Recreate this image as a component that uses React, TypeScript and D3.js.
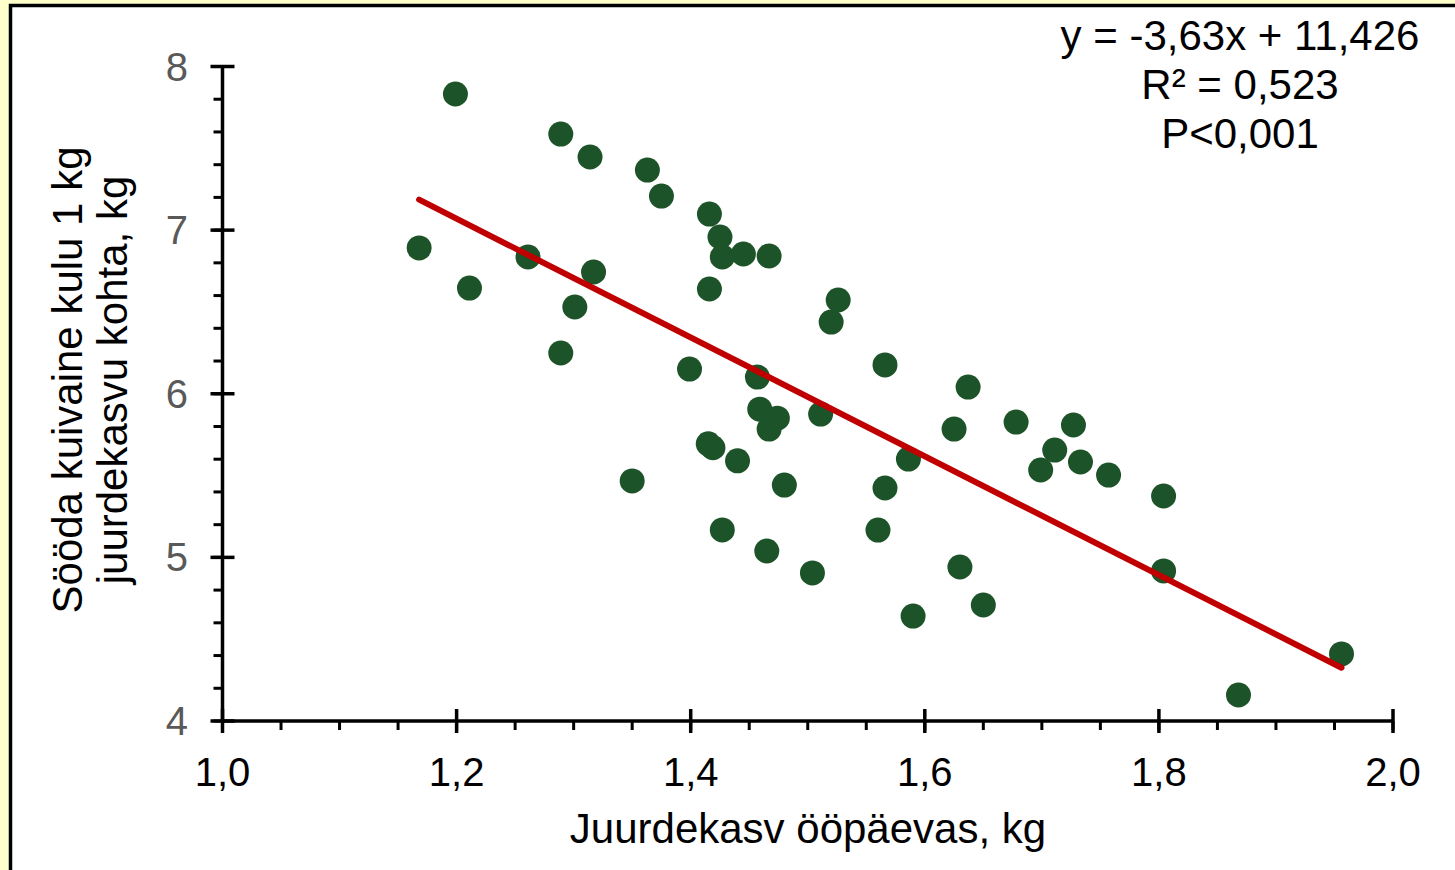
import React from 'react';
import * as d3 from 'd3';

// daily gain, kg
const gain = [
  1.168, 1.199, 1.211, 1.261, 1.289, 1.314, 1.317, 1.301, 1.289, 1.350,
  1.363, 1.375, 1.399, 1.416, 1.416, 1.425, 1.427, 1.445, 1.467, 1.415,
  1.419, 1.440, 1.427, 1.457, 1.459, 1.474, 1.467, 1.480, 1.465, 1.504,
  1.511, 1.520, 1.526, 1.566, 1.566, 1.560, 1.586, 1.590, 1.625, 1.637,
  1.630, 1.650, 1.678, 1.699, 1.711, 1.727, 1.733, 1.757, 1.804, 1.804,
  1.868, 1.956,
];
// feed dry matter per kg gain
const feed = [
  6.891, 7.832, 6.646, 6.836, 7.587, 7.447, 6.744, 6.530, 6.249, 5.467,
  7.367, 7.208, 6.151, 7.098, 6.640, 6.958, 6.836, 6.854, 6.842, 5.694,
  5.670, 5.590, 5.168, 6.102, 5.906, 5.851, 5.784, 5.442, 5.039, 4.905,
  5.876, 6.438, 6.573, 6.176, 5.424, 5.167, 5.601, 4.641, 5.784, 6.041,
  4.941, 4.709, 5.827, 5.534, 5.656, 5.809, 5.583, 5.503, 5.375, 4.917,
  4.159, 4.410,
];

const xTicks = [1.0, 1.2, 1.4, 1.6, 1.8, 2.0];
const yTicks = [4, 5, 6, 7, 8];
const xMinor = d3.range(1.0, 2.0001, 0.05);
const yMinor = d3.range(4, 8.0001, 0.2);

const slope = -3.63;
const intercept = 11.426;
const eqLines = ['y = -3,63x + 11,426', 'R² = 0,523', 'P<0,001'];

const xTitle = 'Juurdekasv ööpäevas, kg';
const yTitle = ['Sööda kuivaine kulu 1 kg', 'juurdekasvu kohta, kg'];

const W = 1455;
const H = 870;
const FONT = '"Liberation Sans", Arial, sans-serif';

export default function App() {
  const x = d3.scaleLinear().domain([1, 2]).range([222.5, 1393]);
  const y = d3.scaleLinear().domain([4, 8]).range([721, 66.5]);
  const fmt = (v: number) => v.toFixed(1).replace('.', ',');

  const xs = d3.extent(gain) as [number, number];
  const fitLine = d3.line<number>()
    .x(d => x(d))
    .y(d => y(slope * d + intercept));

  return (
    <svg width={W} height={H} style={{ position: 'absolute', left: 0, top: 0 }} fontFamily={FONT}>
      <rect x={0} y={0} width={W} height={H} fill="#ffffcc" />
      <rect x={10.5} y={5.5} width={W + 20} height={H + 20} fill="#fff" stroke="#000" strokeWidth={3.5} />

      {/* minor ticks */}
      {xMinor.map((v, i) => (
        <line key={'xm' + i} x1={x(v)} x2={x(v)} y1={y(4)} y2={y(4) + 9} stroke="#000" strokeWidth={3} />
      ))}
      {yMinor.map((v, i) => (
        <line key={'ym' + i} x1={x(1) - 9} x2={x(1)} y1={y(v)} y2={y(v)} stroke="#000" strokeWidth={3} />
      ))}
      {/* major ticks */}
      {xTicks.map(v => (
        <line key={'xt' + v} x1={x(v)} x2={x(v)} y1={y(4) - 12} y2={y(4) + 12} stroke="#000" strokeWidth={3.5} />
      ))}
      {yTicks.map(v => (
        <line key={'yt' + v} x1={x(1) - 12} x2={x(1) + 12} y1={y(v)} y2={y(v)} stroke="#000" strokeWidth={3.5} />
      ))}
      {/* axis lines */}
      <line x1={x(1)} x2={x(2)} y1={y(4)} y2={y(4)} stroke="#000" strokeWidth={3.5} />
      <line x1={x(1)} x2={x(1)} y1={y(4)} y2={y(8)} stroke="#000" strokeWidth={3.5} />

      {/* tick labels */}
      {xTicks.map(v => (
        <text key={'xl' + v} x={x(v)} y={786} textAnchor="middle" fontSize={40} fill="#000">{fmt(v)}</text>
      ))}
      {yTicks.map(v => (
        <text key={'yl' + v} x={188} y={y(v) + 14} textAnchor="end" fontSize={40} fill="#595959">{v}</text>
      ))}

      {/* points */}
      {gain.map((g, i) => (
        <circle key={'p' + i} cx={x(g)} cy={y(feed[i])} r={12.5} fill="#1d5328" />
      ))}

      {/* trend line */}
      <path d={fitLine(xs) || ''} stroke="#c00000" strokeWidth={6} fill="none" strokeLinecap="round" />

      {/* equation */}
      {eqLines.map((t, i) => (
        <text key={'eq' + i} x={1240} y={50 + i * 49} textAnchor="middle" fontSize={42} fill="#000">{t}</text>
      ))}

      {/* axis titles */}
      <text x={808} y={843} textAnchor="middle" fontSize={42} fill="#000">{xTitle}</text>
      {yTitle.map((t, i) => (
        <text key={'yt' + i} transform={`translate(${82 + i * 45},380) rotate(-90)`} textAnchor="middle" fontSize={42} fill="#000">{t}</text>
      ))}
    </svg>
  );
}
